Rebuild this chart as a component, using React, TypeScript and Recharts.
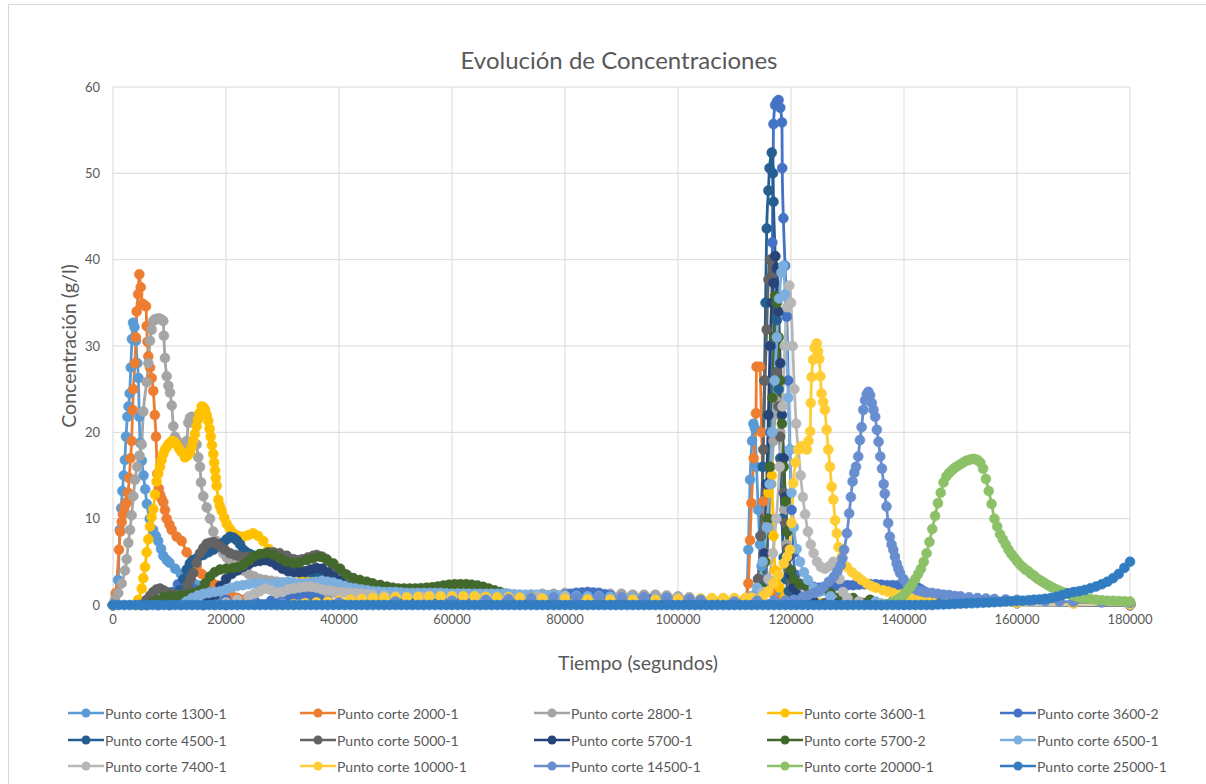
import React from 'react';
import { LineChart, Line, XAxis, YAxis, CartesianGrid } from 'recharts';

const FONT = 'Lato, "Open Sans", "Liberation Sans", sans-serif';
const TEXT = '#595959';
const GRID = '#D9D9D9';

const xTicks = [0, 20000, 40000, 60000, 80000, 100000, 120000, 140000, 160000, 180000];
const yTicks = [0, 10, 20, 30, 40, 50, 60];

// [time in thousands of seconds, concentration g/l]
const p1300_1: [number, number][] = [
  [0,0],[0.5,1.2],[0.9,2.9],[1.2,8.7],[1.45,11.2],[1.65,13.2],[1.9,15],[2.1,16.8],[2.3,19.5],[2.55,21.8],[2.75,23],[2.95,24.5],[3.15,27.5],[3.35,30.8],[3.55,32.7],[3.8,32.2],[4.05,30.6],[4.3,28],[4.5,26.3],[4.65,21.8],[4.8,18.8],[5.1,16.7],[5.4,15],[5.7,13.4],[6,11.7],[6.5,10],[7.1,8.7],[7.6,8],[8,7.4],[8.5,6.5],[8.9,5.7],[9.5,5.2],[10,4.9],[11,4.2],[12,3.6],[13,3.1],[14,2.7],[15,2.3],[16,2],[17,1.6],[18,1.3],[19,1.1],[20,1],[22,0.8],[25,0.6],[30,0.4],[40,0.3],[60,0.2],[110,0.1],
  [112,0.5],[112.45,6.4],[112.75,14.5],[113.1,19],[113.35,21],[113.6,20.5],[113.9,16],[114.2,11],[114.5,7],[114.8,4.5],[115.2,3],[116,2],[117,1.5],[118,1],[120,0.5],[124,0.2],[130,0.1],[180,0],
];
const p2000_1: [number, number][] = [
  [0,0],[0.5,1.4],[1.06,6.4],[1.3,8.5],[1.54,9.6],[1.75,10.5],[1.95,11.1],[2.2,11.6],[2.42,11.9],[2.65,13],[2.89,14.7],[3.1,17],[3.3,19],[3.48,22.6],[3.6,25],[3.89,28],[4.05,31],[4.19,34],[4.45,36],[4.66,38.3],[4.9,36.8],[5.25,34.9],[5.55,34.7],[5.84,34.6],[5.96,32.3],[6.1,30.5],[6.25,28.8],[6.55,27.5],[6.85,26.3],[7.13,24.8],[7.4,22],[7.61,19.5],[7.84,15.2],[8.1,13.5],[8.32,12.8],[8.6,12.3],[8.9,11.9],[9.2,11],[9.5,10],[10,9.3],[10.4,8.7],[11.27,7.9],[12.16,7.4],[13.05,6.1],[14,5.2],[14.8,4.4],[15.7,3.6],[16.6,3.1],[17.5,2.6],[18.35,2.3],[19.2,1.9],[20.1,1.4],[21,1.1],[22,0.8],[23,0.6],[25,0.4],[28,0.3],[35,0.2],[60,0.1],[111,0.1],
  [112,0.8],[112.45,2.5],[112.75,7.5],[113,11.8],[113.4,17],[113.8,22.2],[113.9,27.6],[114.5,27.6],[114.8,20],[115.1,12],[115.4,6],[115.8,3],[116.5,1.5],[118,0.6],[122,0.2],[180,0],
];
const p2800_1: [number, number][] = [
  [0,0],[0.35,0.6],[0.94,1.4],[1.54,2.5],[2.12,4],[2.42,5.3],[2.71,7.2],[3.01,8.7],[3.3,10.4],[3.6,12.6],[3.89,14.5],[4.3,16],[4.7,17.3],[5.08,18.6],[5.37,22.4],[5.96,25.8],[6.25,28],[6.55,30.6],[6.85,31.9],[7.13,32.9],[7.43,33.1],[7.73,33.1],[8.1,33.2],[8.5,33.1],[8.9,32.9],[9,31.2],[9.2,28.6],[9.5,26.5],[9.8,25.4],[10.09,24.6],[10.4,23.1],[10.68,20.7],[10.97,19.5],[11.4,19],[11.86,18.5],[12.3,18.4],[12.74,18.3],[13.05,19],[13.33,21.1],[13.63,21.7],[13.93,21.8],[14.2,21.5],[14.51,21],[14.8,18.6],[15.1,17.1],[15.4,16],[15.58,14.2],[15.98,12.6],[16.58,11.3],[17.17,10],[17.75,8.5],[18.34,7.4],[18.94,6.6],[19.5,6],[20.12,5.5],[20.7,5],[21.3,4.8],[22,4.4],[23,4],[24,3.6],[25,3.3],[26,3],[27,2.9],[28,2.8],[29,2.7],[30,2.6],[31,2.45],[32,2.3],[33,2.2],[34,2.1],[35,2],[36,1.9],[37,1.75],[38,1.6],[39,1.45],[40,1.3],[42,1.1],[45,1],[50,0.8],[55,0.7],[60,0.7],[65,0.8],[68,0.9],[70,1],[72,1.2],[74,1.2],[76,1.3],[78,1.3],[80,1.4],[82,1.4],[84,1.4],[86,1.4],[88,1.3],[90,1.3],[92,1.2],[94,1.2],[96,1.2],[98,1.1],[100,1],[102,0.9],[104,0.7],[106,0.6],[108,0.5],[110,0.5],
  [113,1],[114,1.5],[115,3],[115.5,5],[116,9],[116.5,14],[116.9,19],[117.2,22],[117.5,23.6],[117.8,23],[118.1,20],[118.4,16],[118.8,11],[119.2,7],[119.6,4.2],[120.2,2.5],[121,1.5],[122,1],[124,0.6],[128,0.3],[135,0.1],[180,0],
];
const p3600_1: [number, number][] = [
  [0,0],[4,0],[4.48,0.6],[5.08,1.9],[5.37,3.1],[5.66,4.4],[5.96,6.1],[6.25,7.6],[6.55,9.1],[6.85,10.2],[7.13,11.1],[7.43,12.8],[7.73,14.3],[8,15.2],[8.32,16],[8.6,16.8],[8.9,17.5],[9.2,18],[9.5,18.3],[9.9,18.7],[10.4,19],[10.8,18.9],[11.27,18.6],[11.7,18.1],[12.16,17.7],[12.74,17.1],[13.2,17.3],[13.63,17.7],[13.93,18.3],[14.21,19],[14.5,19.8],[14.8,20.7],[15.05,21.5],[15.28,22.2],[15.7,23],[16,22.9],[16.28,22.6],[16.6,22],[16.87,21.3],[17.1,20.4],[17.29,19.5],[17.5,18.5],[17.75,17.5],[17.9,16.5],[18.06,15.6],[18.2,14.7],[18.35,13.8],[18.64,12.2],[18.9,11.5],[19.24,10.9],[19.7,10.1],[20.12,9.4],[20.7,8.8],[21.3,8.3],[22.2,8],[23.06,7.9],[24,8.1],[24.83,8.3],[25.7,8],[26.6,7.4],[27.5,6.5],[28.37,5.7],[29.5,5],[30.74,4.4],[32,3.9],[33.1,3.6],[34,3.45],[34.87,3.3],[35.7,3.15],[36.5,3],[37.8,2.7],[39,2.4],[40,2.2],[41,1.9],[42,1.6],[43,1.3],[44,1.1],[45,1],[47,0.9],[50,0.8],[55,0.8],[60,0.8],[65,0.75],[70,0.7],[72,0.5],[75,0.3],[80,0.2],[100,0.2],[113,0.3],
  [114.5,1],[115.5,5],[116,13],[116.3,20],[116.6,15],[116.9,8],[117.2,4],[117.6,3],[118,2],[119,1],[121,0.4],[125,0.2],[130,0.1],[180,0],
];
const p3600_2: [number, number][] = [
  [0,0],[8,0],[9.5,0.6],[10.5,1.5],[11.5,2.4],[12.44,2.9],[13.2,2.6],[14,2],[15,1.5],[16,1.2],[17,1],[18,0.8],[20,0.6],[22,0.5],[25,0.4],[28,0.5],[30,0.7],[31,0.85],[32,1],[33,1.2],[33.5,1.3],[34.2,1.3],[35,1.2],[36,0.95],[36.6,0.8],[38,0.5],[40,0.4],[50,0.3],[60,0.3],[70,0.4],[74,0.5],[76,0.7],[78,0.9],[79,1.05],[80,1.2],[81,1.3],[82,1.4],[83,1.45],[84,1.5],[85,1.45],[86,1.4],[87,1.25],[88,1.1],[90,0.8],[95,0.6],[100,0.5],[110,0.4],[114,0.5],
  [115,1.5],[115.5,3],[116,10],[116.3,20],[116.5,30],[116.7,42],[116.9,55.7],[117.2,57.9],[117.5,58.3],[117.8,58.5],[118.1,57.6],[118.4,55.9],[118.45,50.6],[118.65,44.8],[118.95,39.3],[119.25,33.4],[119.5,26],[119.8,18],[120.1,11],[120.4,6],[120.8,3.5],[121.5,2.5],[122,2.3],[123,2.2],[124,2.1],[125,2],[126,2.05],[127,2.1],[128,2.2],[129,2.3],[130,2.3],[131,2.3],[132,2.35],[133,2.4],[134,2.4],[135,2.4],[136,2.35],[137,2.3],[138,2.3],[139,2.3],[140,2.25],[141,2.2],[142,2.1],[142.5,2],[143,1.8],[143.5,1.6],[144,1.4],[145,1.1],[146,0.9],[147,0.7],[150,0.5],[155,0.4],[160,0.35],[170,0.3],[180,0.25],
];
const p4500_1: [number, number][] = [
  [0,0],[10,0],[11,0.5],[11.86,1.7],[12.5,3],[13.05,4.1],[13.6,4.8],[14.2,5.2],[15,5.5],[15.98,5.8],[16.9,6.1],[17.75,6.4],[18.6,6.8],[19.52,7.2],[20.1,7.6],[20.7,7.9],[21.3,7.8],[21.89,7.5],[22.5,7],[23.06,6.4],[23.6,6.1],[24.25,5.9],[25,5.7],[26,5.5],[27,5.3],[28,5.1],[29,4.8],[30,4.5],[31,4.2],[32,4],[33,3.9],[34,3.8],[35,3.8],[36,3.7],[37,3.6],[38,3.3],[39,3],[40,2.6],[41,2.2],[42,1.9],[43,1.7],[44,1.5],[45,1.35],[46,1.2],[48,1],[50,0.8],[55,0.6],[60,0.5],[70,0.4],[80,0.3],[100,0.3],[112,0.3],
  [113.5,1],[114.2,3],[114.6,8],[115,16],[115.3,26],[115.5,35],[115.7,43.6],[116,48],[116.2,50.6],[116.6,52.4],[116.8,50],[116.9,46.7],[117.2,40.4],[117.5,33],[117.8,25],[118.1,17],[118.4,10],[118.7,5.5],[119.1,3],[119.6,1.6],[120.5,0.8],[122,0.4],[126,0.2],[135,0.1],[180,0],
];
const p5000_1: [number, number][] = [
  [0,0],[5,0],[5.96,0.6],[6.6,1.1],[7.13,1.5],[7.7,1.8],[8.32,1.9],[8.9,1.7],[9.5,1.5],[10.4,1.3],[11.27,1.2],[12,1],[12.6,1.3],[13.2,2.3],[13.7,3],[14.2,3.7],[14.8,4.9],[15.4,6],[16,6.6],[16.6,7.1],[17.2,7.2],[17.75,7.3],[18.3,7.1],[18.94,6.8],[19.8,6.4],[20.7,6],[21.6,5.8],[22.48,5.6],[23.6,5.6],[24.83,5.6],[25.7,5.7],[26.6,5.9],[27.5,6.1],[28.37,6.1],[29.5,6],[30.74,5.7],[31.9,5.3],[32.5,5.2],[33.5,5.3],[34.5,5.5],[35.45,5.7],[36.05,5.8],[37,5.6],[38,5.1],[39,4.5],[40,4],[41,3.6],[42.53,3.1],[44,2.7],[45.5,2.5],[47.26,2.3],[48.5,2.1],[49.5,2],[51,1.8],[52,1.75],[53,1.7],[54,1.6],[55,1.5],[56.5,1.4],[58,1.3],[59.5,1.25],[61,1.2],[62.5,1.15],[64,1.1],[66,1.05],[68,1],[70,0.9],[72,0.8],[74,0.7],[76,0.6],[80,0.5],[90,0.4],[100,0.4],[110,0.4],[113,0.5],
  [113.5,1],[114.2,3],[114.7,8],[115.1,18],[115.4,26],[115.7,31.9],[116,37.7],[116.3,40],[116.6,38],[116.9,35],[117.2,31],[117.5,27],[117.8,23],[118.1,19.5],[118.4,16.5],[118.7,13],[119,9.5],[119.3,6.5],[119.6,4.2],[120,2.8],[120.5,1.8],[121.2,1],[122.5,0.5],[126,0.2],[140,0.1],[180,0],
];
const p5700_1: [number, number][] = [
  [0,0],[16,0],[17,0.5],[18,1.2],[19,2.2],[20,3],[21,3.6],[22,4],[23,4.4],[24,4.7],[25,5],[26,5.1],[27,5.2],[28,5],[29,4.6],[30,4.2],[31,3.9],[32,3.8],[33,3.8],[34,3.9],[35,4.1],[36,4.3],[37,4.2],[38,3.8],[39,3.3],[40,2.8],[41,2.4],[42,2.1],[43,1.9],[44,1.7],[45,1.55],[46,1.4],[48,1.2],[50,1],[55,0.8],[60,0.6],[70,0.5],[80,0.4],[100,0.3],[113,0.3],
  [114,0.5],[114.8,2],[115.3,6],[115.7,14],[116,22],[116.3,30],[116.6,35],[116.9,37.3],[117.2,40.4],[117.5,39],[117.8,34],[118.1,28],[118.4,22],[118.7,17],[119,12.5],[119.3,8.5],[119.55,5.6],[119.9,3.5],[120.4,2],[121,1.2],[122,0.7],[124,0.4],[128,0.2],[140,0.1],[180,0],
];
const p5700_2: [number, number][] = [
  [0,0],[6,0],[7,0.3],[8,0.6],[9,0.9],[10,1],[11.27,1],[12.2,1.1],[13.05,1.2],[14.2,1.4],[15.4,1.7],[16.3,2.5],[17.17,3.3],[18,3.8],[18.94,4.1],[20,4.2],[21.3,4.3],[22.2,4.4],[23.06,4.6],[24,5.1],[24.83,5.6],[26,5.9],[27.2,6],[28.4,5.8],[29.56,5.4],[30.7,5],[31.9,4.8],[33,4.9],[34.28,5.2],[35.4,5.4],[36.64,5.6],[37.8,5.3],[39,4.8],[40.2,4.2],[41.37,3.5],[42.5,3.1],[43.7,2.9],[44.9,2.7],[46,2.5],[47.3,2.3],[48.5,2.1],[49.6,1.95],[50.5,1.9],[51.5,1.9],[52.5,1.9],[53.5,1.9],[54.5,1.95],[55.5,2],[56.5,2.05],[57.5,2.15],[58.5,2.25],[59.5,2.35],[60.5,2.4],[61.5,2.4],[62.5,2.4],[63.5,2.35],[64.5,2.25],[65.5,2.1],[66.5,1.9],[67.5,1.7],[68.5,1.5],[69.5,1.3],[70.5,1.1],[71.5,1],[72.5,0.9],[73.5,0.8],[75,0.7],[77,0.6],[80,0.5],[90,0.4],[100,0.35],[110,0.3],[113,0.3],
  [114,0.5],[114.8,2],[115.4,5],[115.9,10],[116.3,16],[116.7,24],[117,31],[117.2,35.8],[117.5,35],[117.8,31],[118.1,26],[118.4,21],[118.7,16],[119,12],[119.3,8.5],[119.6,6],[120,4],[120.5,3],[121.5,2.4],[123,2],[125,1.7],[127,1.4],[129,1.1],[131,0.8],[134,0.6],[138,0.4],[145,0.3],[160,0.2],[180,0.1],
];
const p6500_1: [number, number][] = [
  [0,0],[12,0],[13,0.4],[14,0.8],[15,1.1],[16,1.3],[17,1.4],[18,1.5],[19,1.6],[20,1.8],[21,2],[22,2.2],[23,2.3],[24,2.4],[25,2.5],[26,2.5],[27,2.4],[28,2.4],[29,2.5],[30,2.6],[31,2.7],[32,2.6],[33,2.5],[34,2.5],[35,2.6],[36,2.7],[37,2.8],[38,2.7],[39,2.6],[40,2.4],[41,2.2],[42,2],[43,1.9],[44,1.8],[45,1.7],[46,1.6],[47,1.55],[48,1.5],[49,1.5],[50,1.5],[51,1.45],[52,1.4],[53,1.4],[54,1.4],[55,1.4],[56,1.4],[57,1.4],[58,1.4],[59,1.35],[60,1.3],[61,1.3],[62,1.3],[63,1.3],[64,1.3],[65,1.3],[66,1.3],[67,1.3],[68,1.3],[69,1.3],[70,1.3],[71,1.25],[72,1.2],[73,1.2],[74,1.2],[75,1.2],[76,1.2],[77,1.15],[78,1.1],[79,1.1],[80,1.1],[82,1.05],[84,1],[86,1],[88,0.95],[90,0.9],[92,0.85],[94,0.8],[96,0.75],[98,0.7],[100,0.6],[102,0.5],[104,0.4],[110,0.3],[112,0.5],
  [113,1],[114,2],[115,5],[115.7,9],[116.2,14],[116.7,20],[117.1,26],[117.5,31],[117.9,35.5],[118.3,38.5],[118.65,39.3],[118.95,36],[119.2,30],[119.5,24],[119.8,18],[120.1,13],[120.5,9],[121,6.5],[121.6,5],[122.3,3.8],[123,2.9],[124,2],[125,1.5],[127,1],[130,0.6],[135,0.4],[140,0.3],[160,0.2],[180,0.1],
];
const p7400_1: [number, number][] = [
  [0,0],[18,0],[20,0.3],[22,0.6],[24,1],[25,1.3],[26,1.6],[27,1.9],[28,1.7],[29,1.4],[30,1.5],[31,1.8],[32,1.9],[33,2],[34,2.1],[35,2.1],[36,2],[37,1.8],[38,1.7],[39,1.6],[40,1.5],[41,1.45],[42,1.4],[43,1.35],[44,1.3],[45,1.25],[46,1.2],[48,1.1],[50,1],[55,0.9],[60,0.8],[65,0.8],[70,0.9],[75,1],[80,1],[90,0.9],[100,0.8],[110,0.7],[114,0.8],
  [115,1.5],[116,3],[116.8,6],[117.4,10],[118,16],[118.5,23],[118.9,30],[119.3,34.5],[119.7,37],[120,35],[120.3,30],[120.6,25],[120.9,21],[121.3,18],[121.7,15],[122.1,12.5],[122.5,10.5],[123,8.5],[123.5,7],[124,6],[124.6,5],[125.3,4.4],[126,4.2],[126.8,4.5],[127.5,5],[128,4.8],[128.6,3],[129.2,1.5],[130,0.8],[132,0.4],[136,0.2],[145,0.1],[180,0],
];
const p10000_1: [number, number][] = [
  [0,0],[30,0],[32,0.1],[34,0.2],[36,0.3],[38,0.4],[40,0.5],[42,0.6],[44,0.7],[46,0.8],[48,0.85],[50,0.9],[52,0.9],[54,0.95],[56,1],[58,1],[60,1],[62,1],[64,1],[66,0.95],[68,0.9],[70,0.9],[72,0.85],[74,0.8],[76,0.75],[78,0.7],[80,0.7],[84,0.65],[88,0.6],[92,0.6],[96,0.6],[100,0.65],[102,0.7],[104,0.75],[106,0.8],[108,0.8],[110,0.8],[112,0.8],[113,0.85],
  [115,1],[116,1.6],[116.9,2.5],[117.8,3.5],[118.7,4.8],[119.3,5.6],[119.8,6.4],[120.1,9.5],[120.4,14.1],[120.8,16.5],[121.3,18],[121.8,18.4],[122.3,18.2],[122.8,18],[123.1,19],[123.4,20.1],[123.5,23.4],[123.65,26.4],[123.9,28.4],[124.2,29.8],[124.55,30.3],[124.8,29.4],[125,28.5],[125.2,26.5],[125.4,24.5],[125.7,23.5],[126,22.6],[126.3,20.3],[126.6,18],[126.9,16],[127.2,13.7],[127.5,12.2],[127.8,9.8],[128.1,8.3],[128.4,6.7],[129,5.6],[129.9,4.4],[130.8,3.8],[131.7,3.3],[132.5,2.9],[133.4,2.5],[134.2,2.2],[135,2],[136.3,1.7],[137.2,1.55],[138,1.4],[139.3,1.2],[140.2,1.1],[141,1],[142.3,0.8],[143.5,0.7],[145,0.6],[147.5,0.5],[150,0.4],[160,0.25],[170,0.15],[180,0.1],
];
const p14500_1: [number, number][] = [
  [0,0],[20,0],[25,0.1],[30,0.2],[40,0.3],[50,0.4],[60,0.5],[66,0.6],[70,0.7],[74,0.8],[78,0.9],[82,0.9],[86,0.9],[90,0.9],[94,0.9],[98,0.85],[102,0.7],[104,0.6],[110,0.4],[114,0.5],[117,0.5],[119,0.5],
  [120.5,0.6],[122,0.9],[123,1.1],[124.1,1.4],[125,1.7],[125.8,2.1],[126.7,2.7],[127.6,3.3],[128.2,3.9],[128.8,4.6],[129.1,5.4],[129.4,6.4],[129.9,8.3],[130.3,10.6],[130.6,12.5],[130.9,14.3],[131.2,15.3],[131.5,16],[131.9,17.2],[132.2,19.1],[132.5,20.6],[132.8,22.6],[133.1,23.7],[133.4,24.4],[133.7,24.7],[134,24.3],[134.3,23.4],[134.6,22.6],[134.9,21.8],[135.2,20.3],[135.5,18.9],[135.8,17.2],[136.1,15.8],[136.4,14],[136.6,12.9],[136.9,11.4],[137.2,9.5],[137.5,7.9],[137.8,7],[138.1,6.4],[138.4,5.6],[138.7,4.8],[139,4.2],[139.3,3.7],[139.9,3],[140.5,2.5],[141,2.2],[141.4,2],[142.3,1.7],[143,1.6],[143.5,1.5],[144,1.45],[145,1.4],[146,1.3],[147,1.2],[148,1.15],[149,1.05],[150,1],[151.5,0.9],[153,0.8],[154.5,0.75],[156,0.7],[158,0.65],[160,0.6],[162.5,0.5],[165,0.45],[167.5,0.4],[170,0.35],[175,0.3],[180,0.25],
];
const p20000_1: [number, number][] = [
  [0,0],[136,0],[137,0.1],[138,0.3],[138.5,0.5],[139,0.7],[139.5,0.9],[140,1.2],[140.5,1.6],[141,2],[141.5,2.5],[142,3],[142.5,3.6],[143,4.2],[143.5,5],[144,6],[144.5,7.3],[145,8.8],[145.5,10.3],[146,11.8],[146.5,13],[147,14.2],[147.5,14.9],[148,15.3],[148.5,15.6],[149,15.9],[149.5,16.1],[150,16.3],[150.5,16.5],[151,16.7],[151.5,16.8],[152,16.9],[152.5,16.9],[153,16.8],[153.5,16.5],[154,15.8],[154.5,14.6],[155,13.2],[155.5,11.7],[156,10],[156.5,9.1],[157,8.2],[157.5,7.6],[158,7],[158.5,6.4],[159,5.9],[159.5,5.5],[160,5.1],[160.5,4.7],[161,4.4],[161.5,4.1],[162,3.9],[162.5,3.6],[163,3.4],[163.5,3.1],[164,2.9],[164.5,2.7],[165,2.5],[165.5,2.3],[166,2.1],[166.5,1.95],[167,1.8],[167.5,1.65],[168,1.5],[168.5,1.4],[169,1.3],[169.5,1.2],[170,1.1],[170.5,1],[171,0.9],[171.5,0.85],[172,0.8],[173,0.7],[174,0.6],[175,0.55],[176,0.5],[177,0.48],[178,0.45],[179,0.42],[180,0.4],
];
const p25000_1: [number, number][] = [
  [0,0],[1,0],[2,0],[3,0],[4,0],[5,0],[6,0],[7,0],[8,0],[9,0],
  [10,0],[11,0],[12,0],[13,0],[14,0],[15,0],[16,0],[17,0],[18,0],[19,0],
  [20,0],[21,0],[22,0],[23,0],[24,0],[25,0],[26,0],[27,0],[28,0],[29,0],
  [30,0],[31,0],[32,0],[33,0],[34,0],[35,0],[36,0],[37,0],[38,0],[39,0],
  [40,0],[41,0],[42,0],[43,0],[44,0],[45,0],[46,0],[47,0],[48,0],[49,0],
  [50,0],[51,0],[52,0],[53,0],[54,0],[55,0],[56,0],[57,0],[58,0],[59,0],
  [60,0],[61,0],[62,0],[63,0],[64,0],[65,0],[66,0],[67,0],[68,0],[69,0],
  [70,0],[71,0],[72,0],[73,0],[74,0],[75,0],[76,0],[77,0],[78,0],[79,0],
  [80,0],[81,0],[82,0],[83,0],[84,0],[85,0],[86,0],[87,0],[88,0],[89,0],
  [90,0],[91,0],[92,0],[93,0],[94,0],[95,0],[96,0],[97,0],[98,0],[99,0],
  [100,0],[101,0],[102,0],[103,0],[104,0],[105,0],[106,0],[107,0],[108,0],[109,0],
  [110,0],[111,0],[112,0],[113,0],[114,0],[115,0],[116,0],[117,0],[118,0],[119,0],
  [120,0],[121,0],[122,0],[123,0],[124,0],[125,0],[126,0],[127,0],[128,0],[129,0],
  [130,0],[131,0],[132,0],[133,0],[134,0],[135,0],[136,0],[137,0],[138,0],[139,0],
  [140,0],[141,0],[142,0],[143,0],[144,0],[145,0],
  [146,0.05],[147,0.07],[148,0.1],[149,0.12],[150,0.15],[151,0.18],[152,0.2],[153,0.23],[154,0.26],[155,0.3],[156,0.33],[157,0.36],[158,0.4],[159,0.43],[160,0.46],[161,0.5],[162,0.55],[163,0.6],[164,0.65],[165,0.72],[166,0.8],[167,0.95],[168,1.15],[169,1.35],[170,1.5],[171,1.6],[172,1.75],[173,1.95],[174,2.15],[175,2.4],[176,2.7],[177,3.1],[178,3.6],[179,4.3],[180,5],
];

const seriesNames = [
  'Punto corte 1300-1', 'Punto corte 2000-1', 'Punto corte 2800-1', 'Punto corte 3600-1', 'Punto corte 3600-2',
  'Punto corte 4500-1', 'Punto corte 5000-1', 'Punto corte 5700-1', 'Punto corte 5700-2', 'Punto corte 6500-1',
  'Punto corte 7400-1', 'Punto corte 10000-1', 'Punto corte 14500-1', 'Punto corte 20000-1', 'Punto corte 25000-1',
];
const seriesColors = [
  '#5B9BD5', '#ED7D31', '#A5A5A5', '#FFC000', '#4472C4',
  '#255E91', '#636363', '#264478', '#43682B', '#7CAFDD',
  '#B7B7B7', '#FFCD33', '#698ED0', '#8CC168', '#327DC2',
];
const seriesPoints = [
  p1300_1, p2000_1, p2800_1, p3600_1, p3600_2,
  p4500_1, p5000_1, p5700_1, p5700_2, p6500_1,
  p7400_1, p10000_1, p14500_1, p20000_1, p25000_1,
];

const series = seriesNames.map((name, i) => ({
  name,
  color: seriesColors[i],
  data: seriesPoints[i].map(([t, c]) => ({ x: t * 1000, y: c })),
}));

const legendColX = [68, 300, 534, 767, 1000];
const legendRowY = [713, 740, 766];

export default function App() {
  return (
    <div style={{ position: 'absolute', left: 0, top: 0, width: 1206, height: 784, overflow: 'hidden', background: '#fff', fontFamily: FONT }}>
      <style>{'body{margin:0;overflow:hidden;}'}</style>
      <div style={{ position: 'absolute', left: 8, top: 4, width: 1240, height: 820, border: `1px solid ${GRID}`, boxSizing: 'border-box' }} />
      <LineChart width={1206} height={784} margin={{ top: 87, right: 76, bottom: 149, left: 53 }}>
        <CartesianGrid stroke={GRID} strokeWidth={1} />
        <XAxis
          type="number"
          dataKey="x"
          domain={[0, 180000]}
          ticks={xTicks}
          interval={0}
          height={30}
          axisLine={{ stroke: GRID }}
          tickLine={false}
          tickSize={0}
          tickMargin={10}
          tick={{ fill: TEXT, fontSize: 13, fontFamily: FONT }}
          allowDuplicatedCategory={false}
        />
        <YAxis
          type="number"
          domain={[0, 60]}
          ticks={yTicks}
          interval={0}
          width={60}
          axisLine={false}
          tickLine={false}
          tickSize={0}
          tickMargin={13}
          tick={{ fill: TEXT, fontSize: 13, fontFamily: FONT }}
        />
        {series.map((s) => (
          <Line
            key={s.name}
            name={s.name}
            data={s.data}
            dataKey="y"
            type="monotone"
            stroke={s.color}
            strokeWidth={2.8}
            dot={{ r: 5, fill: s.color, stroke: s.color, strokeWidth: 0.5 }}
            activeDot={false}
            isAnimationActive={false}
          />
        ))}
      </LineChart>
      <div style={{ position: 'absolute', left: 619, top: 59, transform: 'translate(-50%,-50%)', whiteSpace: 'nowrap', fontSize: 24, color: TEXT }}>
        Evolución de Concentraciones
      </div>
      <div style={{ position: 'absolute', left: 638, top: 662, transform: 'translate(-50%,-50%)', whiteSpace: 'nowrap', fontSize: 19.5, color: TEXT }}>
        Tiempo (segundos)
      </div>
      <div style={{ position: 'absolute', left: 68, top: 346, transform: 'translate(-50%,-50%) rotate(-90deg)', whiteSpace: 'nowrap', fontSize: 19.5, color: TEXT }}>
        Concentración (g/l)
      </div>
      {series.map((s, i) => {
        const x = legendColX[i % 5];
        const y = legendRowY[Math.floor(i / 5)];
        return (
          <div key={s.name} style={{ position: 'absolute', left: x, top: y - 10, height: 20, display: 'flex', alignItems: 'center', whiteSpace: 'nowrap' }}>
            <svg width={36} height={20} style={{ display: 'block' }}>
              <line x1={0} y1={10} x2={36} y2={10} stroke={s.color} strokeWidth={2.5} />
              <circle cx={18} cy={10} r={4.5} fill={s.color} />
            </svg>
            <span style={{ fontSize: 14, color: TEXT, marginLeft: 1 }}>{s.name}</span>
          </div>
        );
      })}
    </div>
  );
}
